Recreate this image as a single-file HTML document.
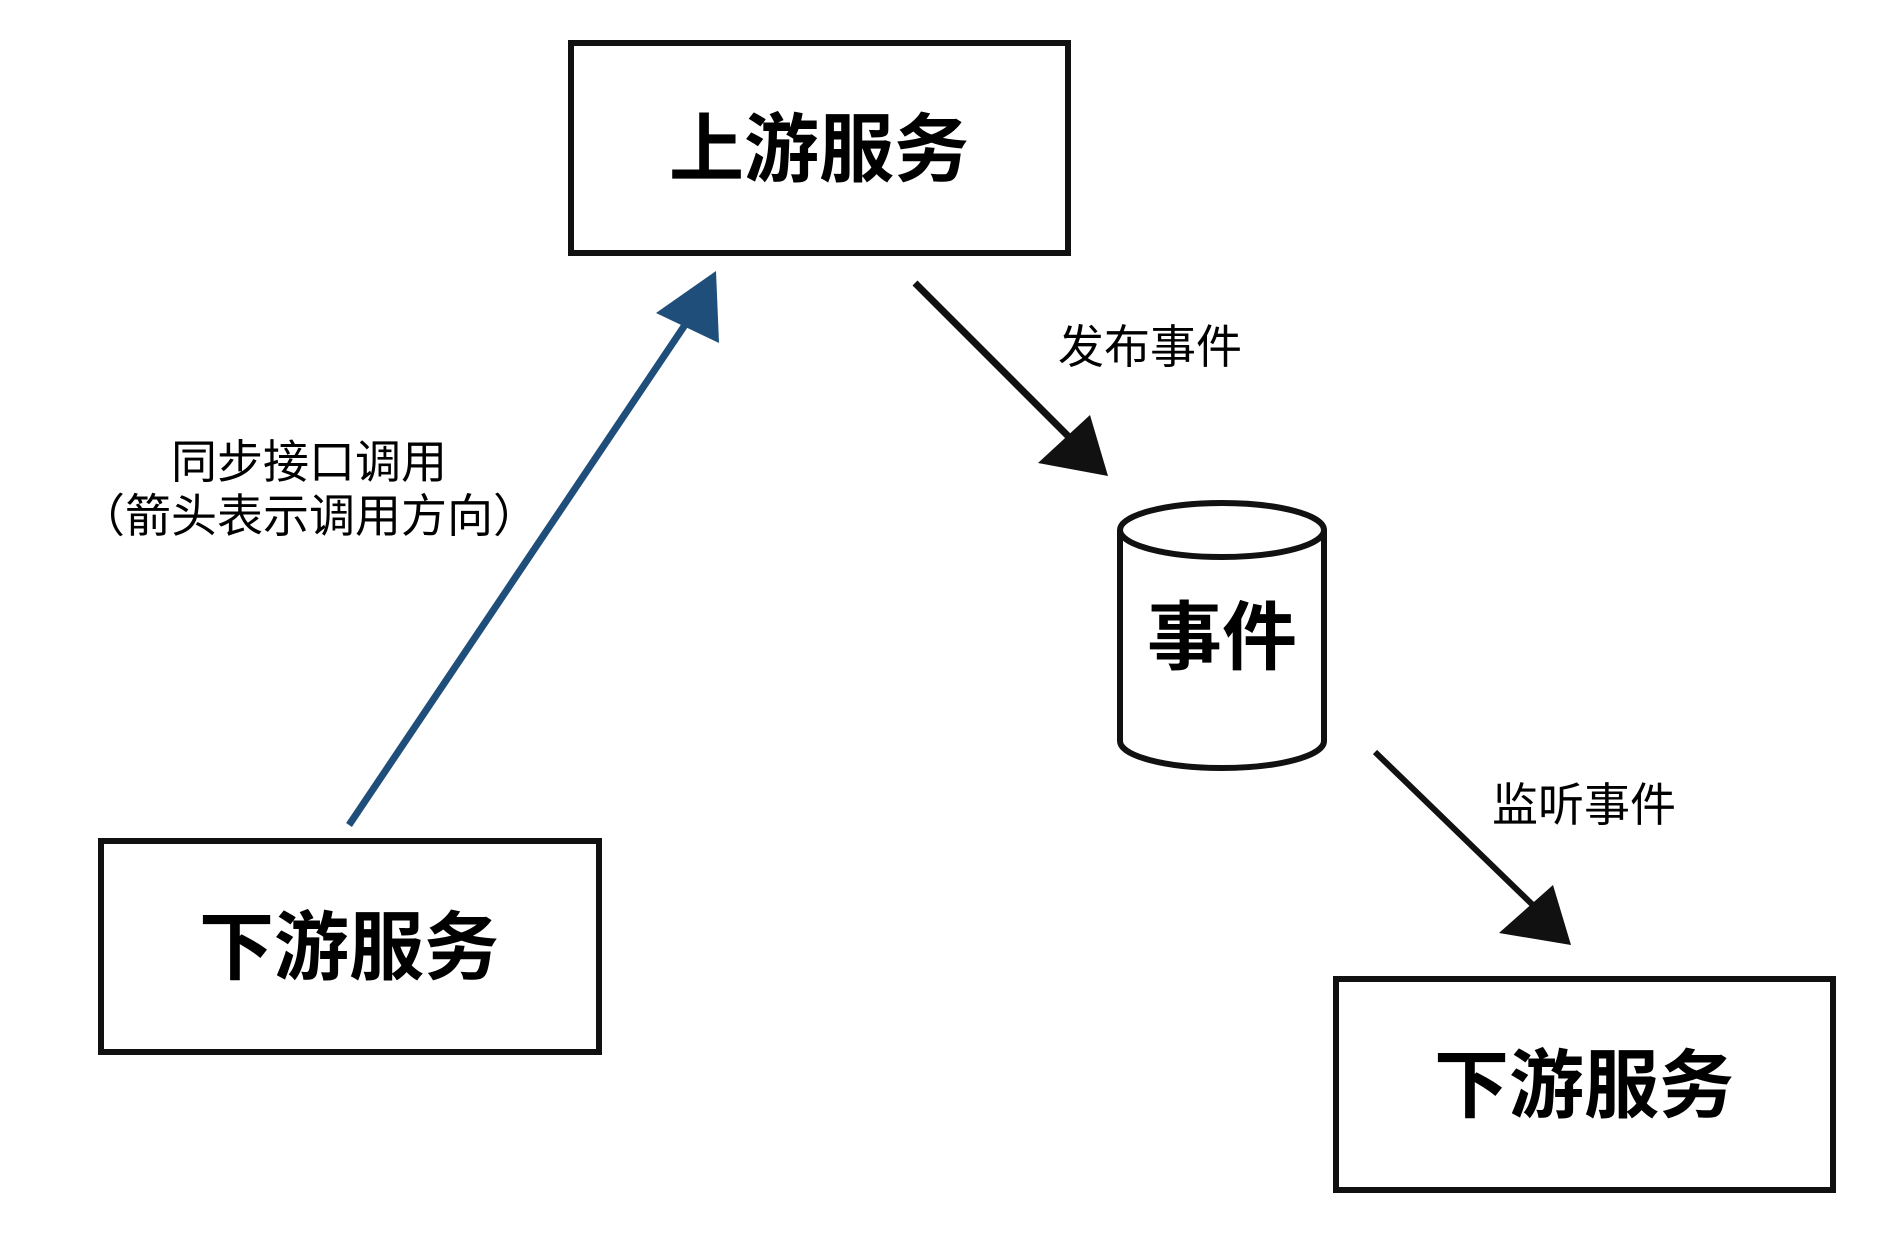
<!DOCTYPE html>
<html><head><meta charset="utf-8"><style>
html,body{margin:0;padding:0;background:#fff;}
body{width:1888px;height:1240px;position:relative;overflow:hidden;font-family:"Liberation Sans","Noto Sans CJK SC",sans-serif;}
.t{position:absolute;transform:translate(-50%,-50%);white-space:nowrap;color:#000;}
.big{font-size:75px;font-weight:bold;}
.sm{font-size:46px;}
</style></head><body>
<svg width="1888" height="1240" style="position:absolute;left:0;top:0">
<g fill="none" stroke="#111" stroke-width="6">
<rect x="571" y="43" width="497" height="210"/>
<rect x="101" y="841" width="498" height="211"/>
<rect x="1336" y="979" width="497" height="211"/>
<path d="M1120 530 L1120 741 A102 27 0 0 0 1324 741 L1324 530"/>
<ellipse cx="1222" cy="530" rx="102" ry="27"/>
</g>
<line x1="349" y1="825" x2="695" y2="310" stroke="#1f4e7a" stroke-width="7"/>
<polygon points="716,271 719,343 656,313" fill="#1f4e7a"/>
<line x1="915" y1="283" x2="1075" y2="443" stroke="#111" stroke-width="7"/>
<polygon points="1108,476 1038,463 1090,415" fill="#111"/>
<line x1="1375" y1="752" x2="1540" y2="912" stroke="#111" stroke-width="6"/>
<polygon points="1571,945 1499,933 1553,885" fill="#111"/>
</svg>
<div class="t big" style="left:819px;top:143px">上游服务</div>
<div class="t big" style="left:349px;top:941px">下游服务</div>
<div class="t big" style="left:1584px;top:1079px">下游服务</div>
<div class="t big" style="left:1222px;top:631px">事件</div>
<div class="t sm" style="left:1150px;top:344px">发布事件</div>
<div class="t sm" style="left:1584px;top:802px">监听事件</div>
<div class="t sm" style="left:309px;top:459px">同步接口调用</div>
<div class="t sm" style="left:309px;top:513px">（箭头表示调用方向）</div>
</body></html>
